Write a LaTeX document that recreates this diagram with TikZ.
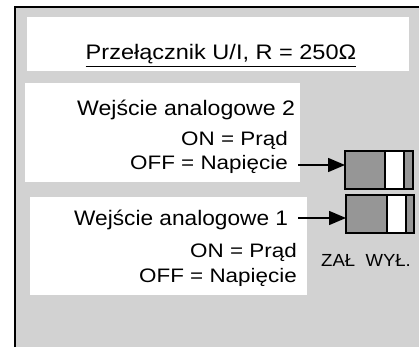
\documentclass[tikz,border=0pt]{standalone}
\usepackage{fontspec}
\usepackage{graphicx}
\setmainfont{Liberation Sans}
\usetikzlibrary{arrows.meta}
\definecolor{bgtex}{RGB}{210,210,210}
\definecolor{swgray}{RGB}{150,150,150}
\tikzset{
  panel/.style={fill=white,draw=none},
  sw/.style={draw=black,line width=1.5pt,fill=swgray,minimum width=68pt,minimum height=38pt,inner sep=0pt,outer sep=0pt},
  swknob/.style={draw=black,line width=1.5pt,fill=white},
  big/.style={font=\fontsize{21}{25}\selectfont,inner sep=0pt},
  mid/.style={font=\fontsize{19.5}{23}\selectfont,inner sep=0pt},
  small/.style={font=\fontsize{17.5}{20}\selectfont,inner sep=0pt},
  pointer/.style={line width=1.5pt,-{Triangle[length=17pt,width=14pt]}}
}
\newcommand{\wide}[2]{\scalebox{#1}[1]{#2}}
\begin{document}
\begin{tikzpicture}[x=1pt,y=-1pt]
\useasboundingbox (0,0) rectangle (419,347);
\fill[white] (0,0) rectangle (419,347);
\fill[bgtex] (15,7) rectangle (419,347);
\draw[line width=1.6pt] (15,347) -- (15,7) -- (419,7);
% panels
\fill[panel] (27,17) rectangle (409,71);
\fill[panel] (25,83) rectangle (300,182);
\fill[panel] (30,197) rectangle (307,295);
% texts
\node[big,anchor=base] (title) at (221,60) {\wide{1.12}{\underline{Przełącznik U/I, R = 250Ω}}};
\node[big,anchor=base west] (w2) at (77,116) {\wide{1.1}{Wejście analogowe 2}};
\node[mid,anchor=base east] (on2) at (288,146) {\wide{1.15}{ON = Prąd}};
\node[mid,anchor=base east] (off2) at (288,170) {\wide{1.15}{OFF = Napięcie}};
\node[big,anchor=base west] (w1) at (74,225) {\wide{1.08}{Wejście analogowe 1}};
\node[mid,anchor=base east] (on1) at (297,257) {\wide{1.15}{ON = Prąd}};
\node[mid,anchor=base east] (off1) at (297,282) {\wide{1.15}{OFF = Napięcie}};
\node[small,anchor=base west] (zw) at (321,266) {\wide{1.06}{ZAŁ\ \ WYŁ.}};
% switches
\node[sw,anchor=north west] (sw2) at (345,151) {};
\draw[swknob] (385,151) rectangle (404,189);
\node[sw,anchor=north west] (sw1) at (346,195) {};
\draw[swknob] (387,195) rectangle (406,233);
% arrows
\coordinate (a2) at (298,165);
\coordinate (a1) at (298,218);
\draw[pointer] (a2) -- (sw2.west |- a2);
\draw[pointer] (a1) -- (sw1.west |- a1);
\end{tikzpicture}
\end{document}
